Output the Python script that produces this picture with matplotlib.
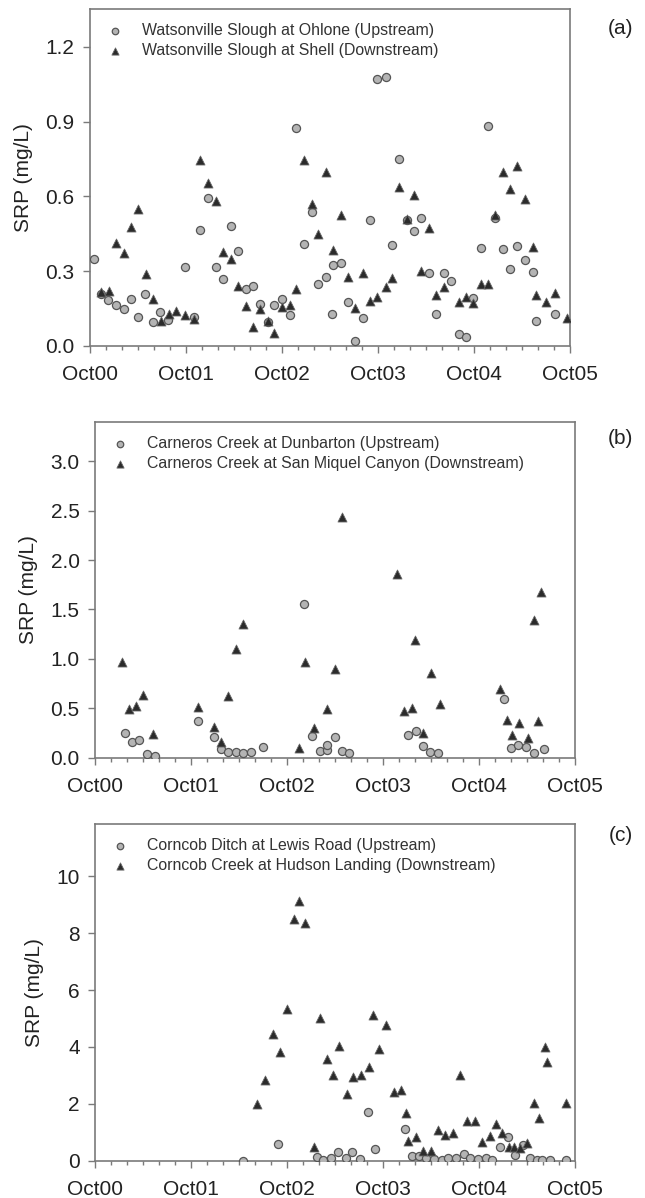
import numpy as np
import matplotlib
matplotlib.use("Agg")
import matplotlib.pyplot as plt
from matplotlib.ticker import MultipleLocator

plt.rcParams['font.family'] = ['Liberation Sans', 'DejaVu Sans']

# years since Oct 2000
year_labels = ['Oct00', 'Oct01', 'Oct02', 'Oct03', 'Oct04', 'Oct05']

# --- (a) Watsonville Slough ---
a_up_x = [0.04, 0.12, 0.19, 0.27, 0.35, 0.43, 0.50, 0.57, 0.66, 0.73, 0.81, 0.99, 1.08,
          1.15, 1.23, 1.31, 1.39, 1.47, 1.54, 1.62, 1.70, 1.77, 1.85, 1.92, 2.00, 2.08,
          2.15, 2.23, 2.31, 2.38, 2.46, 2.53, 2.61, 2.52, 2.69, 2.84, 2.76, 2.92, 2.99,
          3.08, 3.15, 3.22, 3.30, 3.38, 3.45, 3.53, 3.60, 3.69, 3.76, 3.84, 3.92, 3.99,
          4.07, 4.15, 4.22, 4.30, 4.38, 4.45, 4.53, 4.61, 4.65, 4.84]
a_up_y = [0.35, 0.21, 0.185, 0.165, 0.147, 0.19, 0.115, 0.209, 0.096, 0.136, 0.104, 0.318, 0.118,
          0.465, 0.594, 0.318, 0.268, 0.48, 0.38, 0.229, 0.242, 0.169, 0.096, 0.163, 0.187, 0.123,
          0.876, 0.41, 0.536, 0.25, 0.278, 0.324, 0.334, 0.127, 0.177, 0.114, 0.021, 0.507, 1.071,
          1.078, 0.405, 0.752, 0.506, 0.461, 0.515, 0.292, 0.128, 0.292, 0.261, 0.047, 0.037, 0.194,
          0.392, 0.883, 0.512, 0.388, 0.308, 0.401, 0.345, 0.296, 0.10, 0.128]
a_dn_x = [0.12, 0.20, 0.27, 0.35, 0.43, 0.50, 0.58, 0.66, 0.74, 0.82, 0.90, 0.99, 1.08,
          1.15, 1.23, 1.31, 1.39, 1.47, 1.54, 1.62, 1.70, 1.77, 1.85, 1.92, 2.00, 2.08,
          2.15, 2.23, 2.31, 2.38, 2.46, 2.53, 2.61, 2.69, 2.76, 2.84, 2.92, 2.99, 3.08,
          3.15, 3.22, 3.30, 3.38, 3.45, 3.53, 3.60, 3.69, 3.84, 3.92, 3.99, 4.07, 4.15,
          4.22, 4.30, 4.38, 4.45, 4.53, 4.61, 4.65, 4.75, 4.84, 4.97]
a_dn_y = [0.217, 0.22, 0.412, 0.372, 0.479, 0.548, 0.289, 0.187, 0.102, 0.128, 0.142, 0.123, 0.107,
          0.746, 0.653, 0.581, 0.377, 0.348, 0.241, 0.161, 0.075, 0.15, 0.102, 0.053, 0.155, 0.163,
          0.227, 0.746, 0.569, 0.448, 0.697, 0.385, 0.527, 0.278, 0.154, 0.294, 0.181, 0.198, 0.236,
          0.272, 0.639, 0.51, 0.606, 0.301, 0.475, 0.203, 0.236, 0.175, 0.195, 0.171, 0.25, 0.25,
          0.526, 0.699, 0.629, 0.724, 0.589, 0.396, 0.206, 0.178, 0.211, 0.114]

# --- (b) Carneros Creek ---
b_up_x = [0.31, 0.39, 0.46, 0.54, 0.62, 1.07, 1.24, 1.31, 1.39, 1.47, 1.54, 1.62, 1.75,
          2.18, 2.26, 2.34, 2.42, 2.42, 2.50, 2.57, 2.65, 3.26, 3.34, 3.42, 3.49, 3.57,
          4.26, 4.33, 4.41, 4.49, 4.57, 4.68]
b_up_y = [0.247, 0.156, 0.18, 0.035, 0.017, 0.37, 0.206, 0.088, 0.054, 0.054, 0.045, 0.054, 0.11,
          1.56, 0.222, 0.07, 0.078, 0.128, 0.206, 0.068, 0.044, 0.23, 0.273, 0.118, 0.061, 0.051,
          0.593, 0.095, 0.128, 0.111, 0.051, 0.088]
b_dn_x = [0.28, 0.35, 0.43, 0.50, 0.60, 1.07, 1.24, 1.31, 1.39, 1.47, 1.54, 2.12, 2.19,
          2.28, 2.42, 2.50, 2.57, 3.15, 3.22, 3.30, 3.33, 3.42, 3.50, 3.59, 4.22, 4.29,
          4.34, 4.42, 4.51, 4.57, 4.61, 4.65]
b_dn_y = [0.965, 0.49, 0.52, 0.63, 0.24, 0.51, 0.31, 0.155, 0.62, 1.105, 1.35, 0.10, 0.965,
          0.30, 0.49, 0.894, 2.437, 1.854, 0.472, 0.50, 1.19, 0.247, 0.853, 0.54, 0.695, 0.381,
          0.23, 0.348, 0.196, 1.39, 0.37, 1.672]

# --- (c) Corncob ---
c_up_x = [1.545, 1.91, 2.31, 2.38, 2.46, 2.53, 2.61, 2.68, 2.76, 2.84, 2.92, 3.23, 3.30,
          3.38, 3.45, 3.53, 3.61, 3.68, 3.76, 3.84, 3.91, 3.99, 4.07, 4.14, 4.22, 4.30,
          4.38, 4.46, 4.53, 4.60, 4.66, 4.74, 4.91]
c_up_y = [0.0, 0.59, 0.14, 0.03, 0.08, 0.29, 0.08, 0.29, 0.06, 1.71, 0.42, 1.11, 0.15,
          0.15, 0.08, 0.06, 0.04, 0.08, 0.08, 0.24, 0.08, 0.06, 0.08, 0.04, 0.49, 0.82,
          0.21, 0.55, 0.08, 0.04, 0.04, 0.04, 0.02]
c_dn_x = [1.69, 1.77, 1.85, 1.93, 2.00, 2.07, 2.13, 2.19, 2.28, 2.34, 2.42, 2.48, 2.54,
          2.62, 2.69, 2.77, 2.85, 2.90, 2.96, 3.03, 3.11, 3.19, 3.24, 3.26, 3.34, 3.42,
          3.50, 3.57, 3.65, 3.73, 3.80, 3.88, 3.96, 4.03, 4.11, 4.18, 4.24, 4.31, 4.36,
          4.43, 4.50, 4.57, 4.62, 4.69, 4.71, 4.91]
c_dn_y = [1.99, 2.83, 4.44, 3.83, 5.33, 8.49, 9.13, 8.34, 0.47, 5.02, 3.57, 3.03, 4.03,
          2.34, 2.93, 3.01, 3.30, 5.11, 3.92, 4.77, 2.41, 2.48, 1.69, 0.69, 0.82, 0.34,
          0.34, 1.08, 0.90, 0.96, 3.01, 1.41, 1.41, 0.65, 0.86, 1.28, 0.96, 0.47, 0.49,
          0.44, 0.61, 2.04, 1.51, 4.00, 3.48, 2.04]

panels = [
    dict(pos=[0.1395, 0.7112, 0.7442, 0.2813], ylim=1.352, yticks=np.arange(0, 1.21, 0.3), fmt='%.1f',
         up=(a_up_x, a_up_y), dn=(a_dn_x, a_dn_y), tag='(a)', tag_y=0.984,
         labels=['Watsonville Slough at Ohlone (Upstream)', 'Watsonville Slough at Shell (Downstream)']),
    dict(pos=[0.1473, 0.3675, 0.7442, 0.2805], ylim=3.40, yticks=np.arange(0, 3.01, 0.5), fmt='%.1f',
         up=(b_up_x, b_up_y), dn=(b_dn_x, b_dn_y), tag='(b)', tag_y=0.642,
         labels=['Carneros Creek at Dunbarton (Upstream)', 'Carneros Creek at San Miquel Canyon (Downstream)']),
    dict(pos=[0.1473, 0.0311, 0.7442, 0.2810], ylim=11.83, yticks=np.arange(0, 10.1, 2), fmt='%d',
         up=(c_up_x, c_up_y), dn=(c_dn_x, c_dn_y), tag='(c)', tag_y=0.3105,
         labels=['Corncob Ditch at Lewis Road (Upstream)', 'Corncob Creek at Hudson Landing (Downstream)']),
]

fig = plt.figure(figsize=(6.45, 11.98), dpi=100)
txt = '#222222'
frame = '#7a7a7a'

for p in panels:
    ax = fig.add_axes(p['pos'])
    ax.scatter(p['up'][0], p['up'][1], s=34, marker='o', facecolor='#b4b4b4',
               edgecolor='#555555', linewidth=0.9, label=p['labels'][0], zorder=3)
    ax.scatter(p['dn'][0], p['dn'][1], s=42, marker='^', facecolor='#2b2b2b',
               edgecolor='#666666', linewidth=0.6, label=p['labels'][1], zorder=3)
    ax.set_xlim(0, 5)
    ax.set_ylim(0, p['ylim'])
    ax.set_xticks(range(6))
    ax.set_xticklabels(year_labels)
    ax.xaxis.set_minor_locator(MultipleLocator(1 / 6))
    ax.set_yticks(p['yticks'])
    ax.set_yticklabels([p['fmt'] % v for v in p['yticks']])
    ax.tick_params(axis='both', which='major', direction='out', length=5, width=1,
                   color=frame, labelsize=15, labelcolor=txt)
    ax.tick_params(axis='x', which='major', pad=9)
    ax.tick_params(axis='y', which='major', pad=6)
    ax.tick_params(axis='x', which='minor', direction='out', length=3, width=1, color=frame)
    for s in ax.spines.values():
        s.set_color(frame)
        s.set_linewidth(1.2)
    ax.set_ylabel('SRP (mg/L)', fontsize=15, color=txt, labelpad=9)
    leg = ax.legend(loc='upper left', frameon=False, fontsize=11.4, markerscale=0.8,
                    handletextpad=1.0, borderaxespad=0.5, labelspacing=0.3,
                    handlelength=1.4, borderpad=0.4)
    for t in leg.get_texts():
        t.set_color('#333333')
    fig.text(0.982, p['tag_y'], p['tag'], fontsize=15, color=txt, ha='right', va='top')

fig.savefig('out.png', dpi=100)
